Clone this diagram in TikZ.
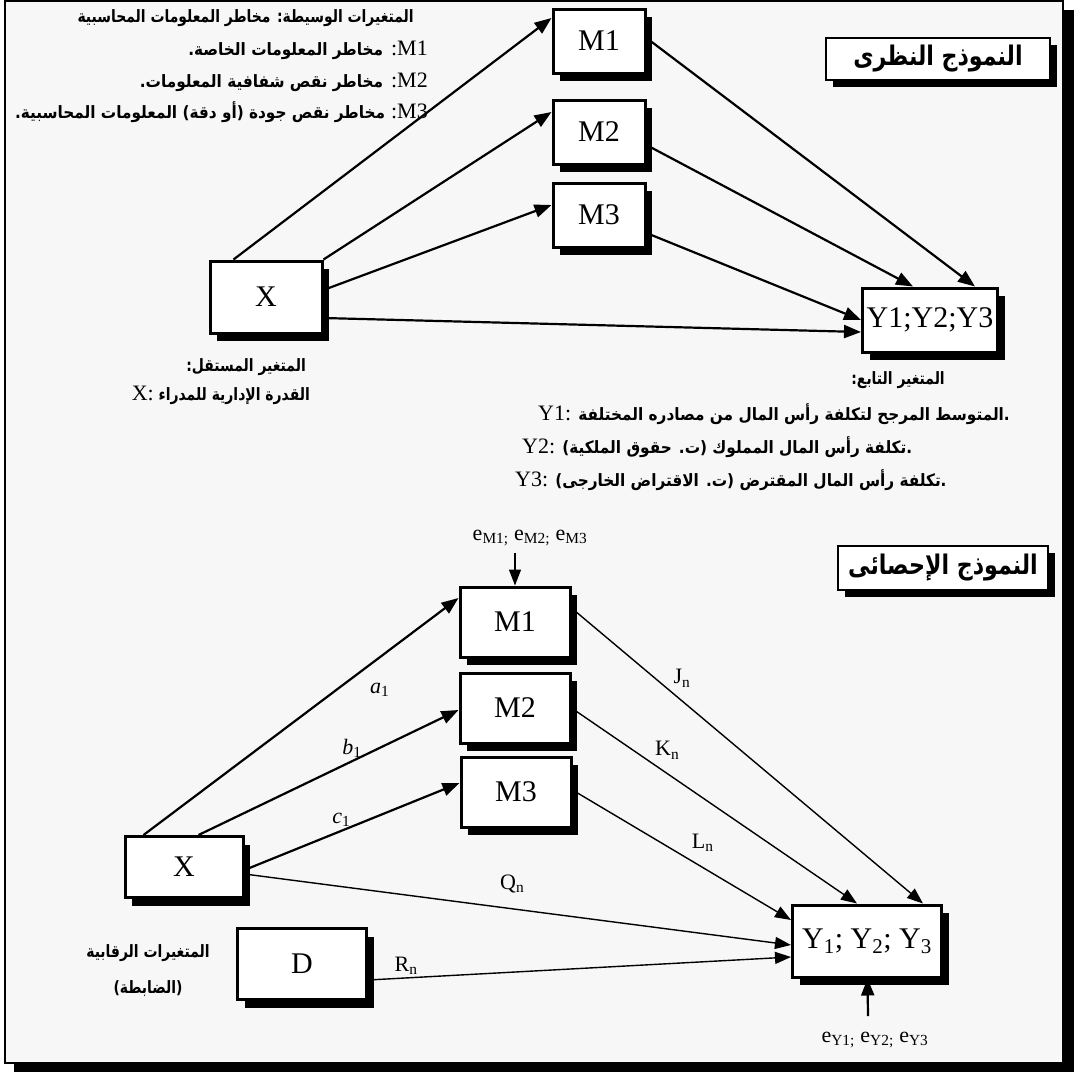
\documentclass[tikz,border=0pt]{standalone}
\usepackage{fontspec}
\setmainfont{Liberation Serif}
\newfontfamily\arabicfont[Script=Arabic,FakeStretch=0.82]{DejaVu Sans}
\newfontfamily\arabicwide[Script=Arabic,FakeStretch=0.9]{DejaVu Sans}
\TeXXeTstate=1
\usetikzlibrary{arrows.meta,shadows,calc}
\definecolor{paper}{HTML}{F7F7F7}
\newcommand\latn[1]{{\normalfont\fontsize{22}{24}\selectfont #1}}

\tikzset{
  varbox/.style={draw,line width=3pt,fill=white,inner sep=0pt,
    font=\fontsize{30}{34}\selectfont,
    drop shadow={shadow xshift=7pt,shadow yshift=-8pt,fill=black,opacity=1}},
  headbox/.style={draw,line width=2.5pt,fill=white,inner sep=0pt,
    font=\arabicfont\bfseries\fontsize{27}{30}\selectfont,
    drop shadow={shadow xshift=7pt,shadow yshift=-7pt,fill=black,opacity=1}},
  artxt/.style={inner sep=0pt,font=\arabicfont\bfseries\fontsize{17}{20}\selectfont},
  arwide/.style={inner sep=0pt,font=\arabicwide\bfseries\fontsize{17}{20}\selectfont},
  link/.style={-{Triangle[length=17pt,width=13pt]},line width=2.2pt},
  thinlink/.style={-{Triangle[length=16pt,width=12pt]},line width=1.4pt},
  elbl/.style={inner sep=1pt,font=\fontsize{22}{24}\selectfont},
}

\begin{document}
\begin{tikzpicture}[x=1pt,y=-1pt]
\useasboundingbox (0,0) rectangle (1074,1072);
% frame with shadow
\fill[black] (14,10) rectangle (1074,1072);
\filldraw[fill=paper,draw=black,line width=1.2pt] (5,1) rectangle (1063,1063);

% theoretical model
\node[headbox,minimum width=224pt,minimum height=42pt] (hTheory) at (938,59) {\beginR النموذج النظرى\endR};
\node[varbox,minimum width=92pt,minimum height=64pt] (tM1) at (599,41) {M1};
\node[varbox,minimum width=92pt,minimum height=64pt] (tM2) at (599,132) {M2};
\node[varbox,minimum width=92pt,minimum height=64pt] (tM3) at (599,215) {M3};
\node[varbox,minimum width=112pt,minimum height=72pt] (tX) at (266,297) {X};
\node[varbox,minimum width=135pt,minimum height=64pt] (tY) at (930,320) {Y1;Y2;Y3};

\draw[link] ([xshift=25pt]tX.north west) -- ([yshift=23pt]tM1.west);
\draw[link] (tX.north east) -- ([yshift=20pt]tM2.west);
\draw[link] ([yshift=7pt]tX.east) -- ([yshift=10pt]tM3.west);
\draw[link] ([yshift=-21pt]tX.east) -- ([yshift=-12pt]tY.west);
\draw[link] ([yshift=3pt]tM1.east) -- ([xshift=45pt]tY.north);
\draw[link] ([yshift=-13pt]tM2.east) -- ([xshift=-17pt]tY.north);
\draw[link] ([yshift=-18pt]tM3.east) -- (tY.west);

\node[artxt,anchor=east] (mHead) at (414,18) {\beginR المتغيرات  الوسيطة: مخاطر المعلومات المحاسبية\endR};
\node[arwide,anchor=east] (mOne) at (428,50) {\beginR مخاطر المعلومات الخاصة.\endR\hspace{8pt}\latn{:M1}};
\node[arwide,anchor=east] (mTwo) at (428,82) {\beginR مخاطر نقص شفافية المعلومات.\endR\hspace{8pt}\latn{:M2}};
\node[arwide,anchor=east] (mThree) at (428,112) {\beginR مخاطر نقص جودة (أو دقة) المعلومات المحاسبية.\endR\hspace{6pt}\latn{:M3}};

\node[artxt,anchor=east] (xHead) at (306,367) {\beginR المتغير المستقل:\endR};
\node[artxt,anchor=east] (xOne) at (310,395) {\latn{X:} \beginR القدرة الإدارية للمدراء\endR};

\node[artxt,anchor=east] (yHead) at (945,380) {\beginR المتغير التابع:\endR};
\node[arwide,anchor=west] (yOne) at (538,414) {\latn{Y1:} \beginR المتوسط المرجح لتكلفة رأس المال من مصادره المختلفة\endR.};
\node[arwide,anchor=west] (yTwo) at (522,447) {\latn{Y2:} \beginR تكلفة رأس المال المملوك (ت. حقوق الملكية)\endR.};
\node[arwide,anchor=west] (yThree) at (515,480) {\latn{Y3:} \beginR تكلفة رأس المال المقترض (ت. الاقتراض الخارجى)\endR.};

% statistical model
\node[headbox,minimum width=210pt,minimum height=44pt] (hStat) at (943,568) {\beginR النموذج الإحصائى\endR};
\node[varbox,minimum width=110pt,minimum height=70pt] (bM1) at (515,622) {M1};
\node[varbox,minimum width=110pt,minimum height=70pt] (bM2) at (515,708) {M2};
\node[varbox,minimum width=110pt,minimum height=70pt] (bM3) at (516,792) {M3};
\node[varbox,minimum width=118pt,minimum height=61pt] (bX) at (184,867) {X};
\node[varbox,minimum width=129pt,minimum height=71pt] (bD) at (302,964) {D};
\node[varbox,minimum width=149pt,minimum height=72pt] (bY) at (867,941) {Y\textsubscript{1}; Y\textsubscript{2}; Y\textsubscript{3}};

\draw[link] ([xshift=20pt]bX.north west) -- node[elbl,pos=0.75,below=24pt] {\textit{a}\textsubscript{1}} ([yshift=24pt]bM1.west);
\draw[link] ([xshift=75pt]bX.north west) -- node[elbl,pos=0.59,above=2pt] {\textit{b}\textsubscript{1}} ([yshift=-2pt]bM2.west);
\draw[link] ([yshift=-3pt]bX.east) -- node[elbl,pos=0.45,above=2pt] {\textit{c}\textsubscript{1}} ([yshift=9pt]bM3.west);
\draw[thinlink] ([yshift=14pt]bM1.east) -- node[elbl,pos=0.28,above right=2pt] {J\textsubscript{n}} ([xshift=56pt]bY.north);
\draw[thinlink] (bM2.east) -- node[elbl,pos=0.28,above right=2pt] {K\textsubscript{n}} ([xshift=-10pt]bY.north);
\draw[thinlink] ([yshift=2pt]bM3.east) -- node[elbl,pos=0.52,above right=4pt] {L\textsubscript{n}} ([yshift=21pt]bY.west);
\draw[thinlink] ([yshift=-7pt]bX.east) -- node[elbl,pos=0.49,above=14pt] {Q\textsubscript{n}} ([yshift=-4pt]bY.west);
\draw[thinlink] ([yshift=-16pt]bD.east) -- node[elbl,pos=0.09,above=2pt] {R\textsubscript{n}} ([yshift=-16pt]bY.west);

\node[elbl] (eMlbl) at (530,538) {e\textsubscript{M1;} e\textsubscript{M2;} e\textsubscript{M3}};
\coordinate (eMtop) at (515,553);
\draw[thinlink] (eMtop) -- (bM1);
\node[elbl] (eYlbl) at (875,1040) {e\textsubscript{Y1;} e\textsubscript{Y2;} e\textsubscript{Y3}};
\coordinate (eYbot) at (868,1016);
\draw[link] (eYbot) -- (bY);

\node[artxt] (dHead) at (148,953) {\beginR المتغيرات الرقابية\endR};
\node[artxt] (dSub) at (148,988) {\beginR (الضابطة)\endR};
\end{tikzpicture}
\end{document}
